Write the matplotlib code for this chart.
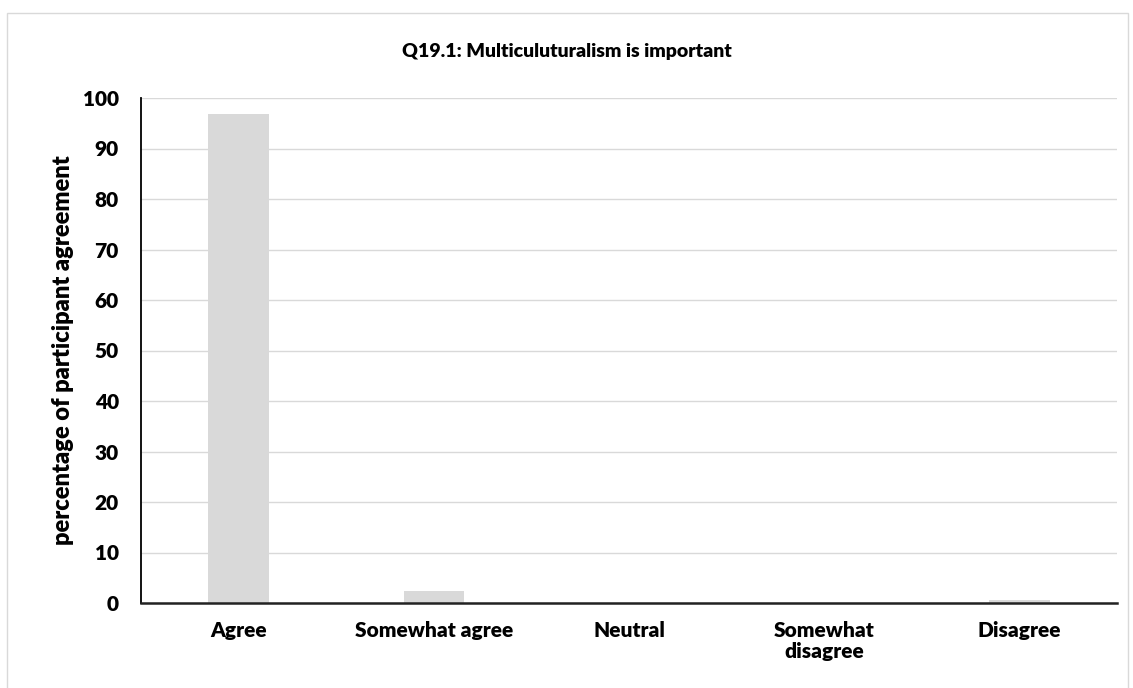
import numpy as np
import matplotlib.pyplot as plt
from matplotlib.patches import Rectangle

# Data
categories = ["Agree", "Somewhat agree", "Neutral", "Somewhat\ndisagree", "Disagree"]
values = [96.9, 2.4, 0.0, 0.0, 0.6]
yticks = [0, 10, 20, 30, 40, 50, 60, 70, 80, 90, 100]

W = 'heavy'
plt.rcParams['font.family'] = ['Lato', 'DejaVu Sans']
plt.rcParams['font.weight'] = W

fig = plt.figure(figsize=(11.33, 6.88), dpi=100)

# outer chart frame
fig.patches.append(Rectangle((7/1133, -0.01), 1121/1133, 1 - 13/688 + 0.01,
                             transform=fig.transFigure, fill=False,
                             edgecolor="#d9d9d9", linewidth=1.0, zorder=0))

ax = fig.add_axes([141/1133, 1 - 603/688, (1117 - 141)/1133, (603 - 98)/688])

x = np.arange(len(categories))
ax.bar(x, values, width=0.31, color="#d9d9d9", zorder=2)

ax.set_xlim(-0.5, len(categories) - 0.5)
ax.set_ylim(0, 100)
ax.set_yticks(yticks)
ax.set_xticks(x)
ax.set_xticklabels(categories, fontsize=15, fontweight=W, linespacing=1.1)
ax.tick_params(axis='both', length=0, labelsize=15)
ax.tick_params(axis='x', pad=13)
ax.tick_params(axis='y', pad=16)
for lab in ax.get_yticklabels():
    lab.set_fontweight(W)

ax.grid(axis='y', color="#d9d9d9", linewidth=1.0, zorder=0)
ax.set_axisbelow(True)

for side in ['top', 'right']:
    ax.spines[side].set_visible(False)
ax.spines['left'].set_linewidth(1.3)
ax.spines['bottom'].set_linewidth(1.8)
ax.spines['left'].set_color('black')
ax.spines['bottom'].set_color('#222222')

ax.set_ylabel("percentage of participant agreement", fontsize=17, fontweight=W)
ax.yaxis.set_label_coords(-67/976, 0.5)
fig.text(0.5, 1 - 51/688, "Q19.1: Multiculuturalism is important", ha='center', va='center',
         fontsize=14, fontweight=W)

plt.savefig("out.png", dpi=100)
plt.close(fig)
